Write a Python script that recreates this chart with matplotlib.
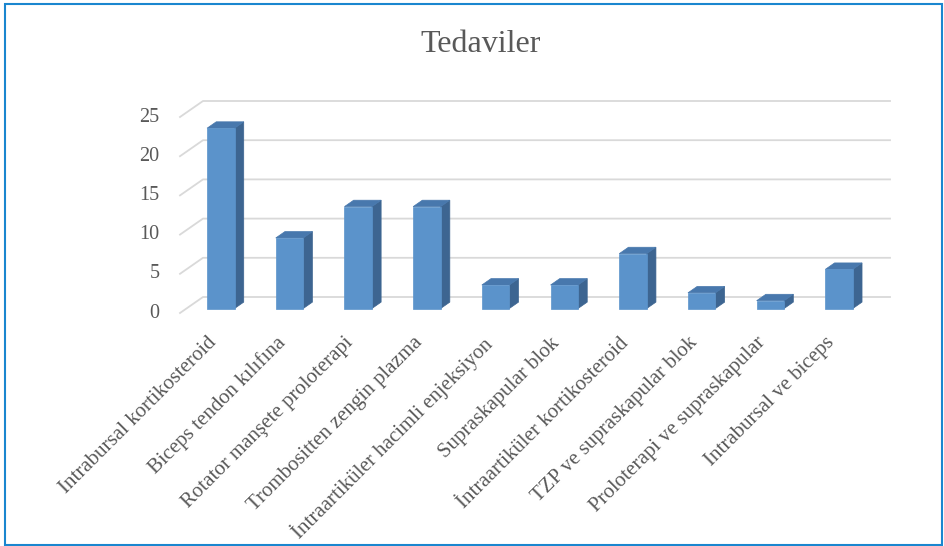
import matplotlib
matplotlib.use("Agg")
import matplotlib.pyplot as plt
import numpy as np
from matplotlib.patches import Polygon, Rectangle
from matplotlib.lines import Line2D

categories = ["Intrabursal kortikosteroid", "Biceps tendon kılıfına",
              "Rotator manşete proloterapi", "Trombositten zengin plazma",
              "İntraartiküler hacimli enjeksiyon", "Supraskapular blok",
              "İntraartiküler kortikosteroid", "TZP ve supraskapular blok",
              "Proloterapi ve supraskapular", "Intrabursal ve biceps"]
values = [23, 9, 13, 13, 3, 3, 7, 2, 1, 5]
yticks = [0, 5, 10, 15, 20, 25]
title = "Tedaviler"

W, H, DPI = 944, 546, 100
fig = plt.figure(figsize=(W / DPI, H / DPI), dpi=DPI)
fig.patch.set_facecolor("white")

# front plane of the plot box (pixels from left / bottom)
L, R, B, T = 180, 867, H - 313, H - 117
ax = fig.add_axes([L / W, B / H, (R - L) / W, (T - B) / H])
ax.set_xlim(-0.5, len(categories) - 0.5)
ax.set_ylim(0, 25)
ax.axis("off")

DX, DY = 23, 16  # full depth offset in pixels
font = "Liberation Serif"
grey = "#595959"

fig.canvas.draw()
tr = ax.transData


def P(x, v, d):
    px, py = tr.transform((x, v))
    return (px + d * DX, py + d * DY)


grid_c = "#d9d9d9"
x0, x1 = -0.5, len(categories) - 0.5
for t in yticks:
    a = P(x0, t, 0); b = P(x0, t, 1); c = P(x1, t, 1)
    fig.add_artist(Line2D([a[0], b[0], c[0]], [a[1], b[1], c[1]],
                          color=grid_c, lw=1.3, transform=None, zorder=1))
    ax.text(x0 - 0.30, t, str(t), transform=tr, ha="right", va="center",
            fontsize=14.5, color=grey, family=font)

front_c = "#5b93cb"
side_c = "#3d6591"
top_c = "#4878ad"
bw = 0.40
d0, d1 = 0.28, 0.68
for i, v in enumerate(values):
    xl, xr = i - bw / 2, i + bw / 2
    side = [P(xr, 0, d0), P(xr, 0, d1), P(xr, v, d1), P(xr, v, d0)]
    top = [P(xl, v, d0), P(xr, v, d0), P(xr, v, d1), P(xl, v, d1)]
    front = [P(xl, 0, d0), P(xr, 0, d0), P(xr, v, d0), P(xl, v, d0)]
    for pts, col in ((side, side_c), (top, top_c), (front, front_c)):
        fig.add_artist(Polygon(pts, closed=True, facecolor=col,
                               edgecolor=col, lw=0.5, transform=None, zorder=3))

for i, lab in enumerate(categories):
    px, py = P(i, 0, d0)
    fig.text((px - 14) / W, (py - 25) / H, lab, rotation=45, ha="right", va="top",
             rotation_mode="anchor", fontsize=15, color=grey, family=font)

fig.text(481 / W, 1 - 45 / H, title, ha="center", va="center",
         fontsize=23, color=grey, family=font)

fig.add_artist(Rectangle((5 / W, 1 / H), (W - 7) / W, (H - 5) / H,
                         fill=False, edgecolor="#1a86cf", lw=1.5,
                         transform=fig.transFigure))

fig.savefig("out.png", dpi=DPI, facecolor="white")
